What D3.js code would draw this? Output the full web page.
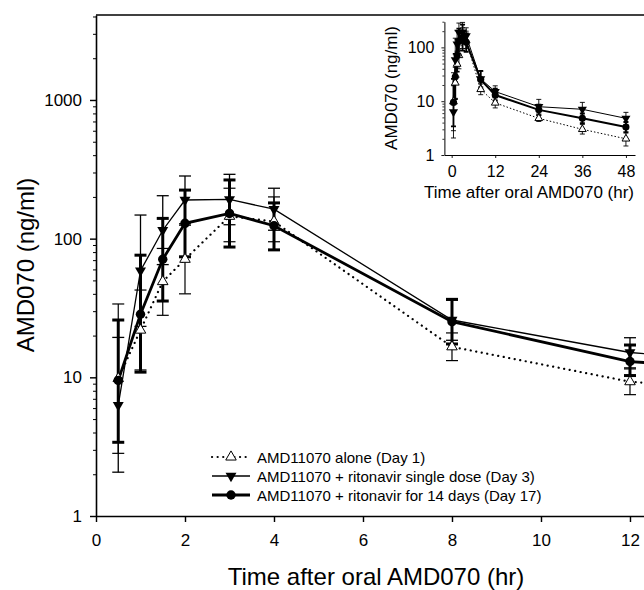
<!DOCTYPE html>
<html>
<head>
<meta charset="utf-8">
<script src="https://cdn.jsdelivr.net/npm/d3@7"></script>
<style>
body { margin: 0; background: #fff; }
svg { display: block; font-family: "Liberation Sans", Arial, sans-serif; }
</style>
</head>
<body>
<svg id="chart" width="644" height="590"></svg>
<script>
'use strict';

// Sampling times (hr)
var times = [0.5, 1, 1.5, 2, 3, 4, 8, 12, 24, 36, 48];

// AMD11070 alone (Day 1)
var aloneMean = [9.8, 21.9, 49, 71, 145, 133, 16.6, 9.3, 4.8, 3.0, 2.0];
var aloneLow  = [2.83, 11.3, 28, 40, 95, 95, 13.2, 7.5, 4.2, 2.45, 1.47];
var aloneHigh = [33.8, 42.6, 85, 125, 231, 200, 20.9, 11.5, 5.5, 3.7, 2.7];

// AMD11070 + ritonavir single dose (Day 3)
var singleMean = [6.3, 58.7, 115, 190, 192, 163, 25.9, 15.1, 7.9, 7.07, 4.8];
var singleLow  = [2.07, 23.3, 65, 128, 126, 115, 18.5, 11.7, 5.8, 5.3, 3.7];
var singleHigh = [19.4, 148, 204, 283, 291, 231, 36, 19.3, 10.8, 9.5, 6.2];

// AMD11070 + ritonavir for 14 days (Day 17)
var multiMean = [9.5, 28.5, 71, 129, 152, 124, 25.2, 13, 6.9, 4.8, 3.3];
var multiLow  = [3.4, 10.9, 35.5, 74, 87, 83, 17.4, 10.3, 5.5, 3.9, 2.6];
var multiHigh = [25.9, 76, 140, 224, 265, 181, 36.5, 17.1, 8.6, 5.9, 4.1];

var legendLabels = [
    'AMD11070 alone (Day 1)',
    'AMD11070 + ritonavir single dose (Day 3)',
    'AMD11070 + ritonavir for 14 days (Day 17)'
];

var mainXTicks = [0, 2, 4, 6, 8, 10, 12];
var mainYTicks = [1, 10, 100, 1000];
var insetXTicks = [0, 12, 24, 36, 48];
var insetYTicks = [1, 10, 100];

var xTitle = 'Time after oral AMD070 (hr)';
var yTitle = 'AMD070 (ng/ml)';

function rows(mean, low, high) {
    return times.map(function (t, i) {
        return { t: t, v: mean[i], lo: low[i], hi: high[i] };
    });
}

var series = [
    { data: rows(aloneMean, aloneLow, aloneHigh), kind: 'alone' },
    { data: rows(singleMean, singleLow, singleHigh), kind: 'single' },
    { data: rows(multiMean, multiLow, multiHigh), kind: 'multi' }
];

// Styles for main plot and inset
var mainStyle = {
    alone:  { lw: 2.2, dash: '0.1,5.5', cap: 'round', ew: 1.2, cw: 12, sym: 'tri', size: 48 },
    single: { lw: 1.3, dash: null, cap: 'butt', ew: 1.3, cw: 12, sym: 'down', size: 52 },
    multi:  { lw: 2.8, dash: null, cap: 'butt', ew: 3, cw: 12, sym: 'circle', size: 70 }
};
var insetStyle = {
    alone:  { lw: 1, dash: '1.5,2', cap: 'butt', ew: 0.9, cw: 5, sym: 'tri', size: 26 },
    single: { lw: 1, dash: null, cap: 'butt', ew: 0.9, cw: 5, sym: 'down', size: 36 },
    multi:  { lw: 2, dash: null, cap: 'butt', ew: 1.8, cw: 5, sym: 'circle', size: 40 }
};

var svg = d3.select('#chart');

function symbolPath(st) {
    var type = st.sym === 'circle' ? d3.symbolCircle : d3.symbolTriangle;
    return d3.symbol().type(type).size(st.size)();
}

function drawMarker(g, st, px, py) {
    var m = g.append('path')
        .attr('d', symbolPath(st))
        .attr('transform', 'translate(' + px + ',' + py + ')' + (st.sym === 'down' ? ' rotate(180)' : ''));
    if (st.sym === 'tri') {
        m.style('fill', '#fff').style('stroke', '#000').style('stroke-width', 1);
    } else {
        m.style('fill', '#000').style('stroke', 'none');
    }
    return m;
}

function drawSeries(root, x, y, styles, clipId) {
    var g = root.append('g').attr('clip-path', 'url(#' + clipId + ')');
    var line = d3.line()
        .x(function (d) { return x(d.t); })
        .y(function (d) { return y(d.v); });

    // Lines
    series.forEach(function (s) {
        var st = styles[s.kind];
        g.append('path')
            .datum(s.data)
            .attr('d', line)
            .style('fill', 'none')
            .style('stroke', '#000')
            .style('stroke-width', st.lw)
            .style('stroke-linecap', st.cap)
            .style('stroke-dasharray', st.dash);
    });

    // Error bars
    series.forEach(function (s) {
        var st = styles[s.kind];
        var eg = g.append('g')
            .style('stroke', '#000')
            .style('stroke-width', st.ew);
        s.data.forEach(function (d) {
            var cx = x(d.t);
            eg.append('line')
                .attr('x1', cx).attr('x2', cx)
                .attr('y1', y(d.lo)).attr('y2', y(d.hi));
            [d.lo, d.hi].forEach(function (v) {
                eg.append('line')
                    .attr('x1', cx - st.cw / 2).attr('x2', cx + st.cw / 2)
                    .attr('y1', y(v)).attr('y2', y(v));
            });
        });
    });

    // Markers
    series.forEach(function (s) {
        var st = styles[s.kind];
        s.data.forEach(function (d) {
            drawMarker(g, st, x(d.t), y(d.v));
        });
    });
}

function styleAxis(g, fontSize, lineWidth) {
    g.attr('font-family', null).attr('font-size', fontSize);
    g.selectAll('path.domain').style('stroke-width', lineWidth);
    g.selectAll('.tick line').style('stroke-width', lineWidth * 0.9);
    g.selectAll('.tick text').style('fill', '#000');
}

function minorTicks(scale, majors) {
    return scale.ticks().filter(function (v) { return majors.indexOf(v) < 0; });
}

// ---- Main plot ----
var x = d3.scaleLinear().domain([0, 12.315]).range([96, 644]);
var y = d3.scaleLog().domain([1, 4100]).range([516, 15]);

var defs = svg.append('defs');
defs.append('clipPath').attr('id', 'mainClip')
    .append('rect')
    .attr('x', x.range()[0]).attr('y', y.range()[1])
    .attr('width', x.range()[1] - x.range()[0])
    .attr('height', y.range()[0] - y.range()[1]);

drawSeries(svg, x, y, mainStyle, 'mainClip');

// Top frame line
svg.append('line')
    .attr('x1', x.range()[0]).attr('x2', x.range()[1])
    .attr('y1', y.range()[1]).attr('y2', y.range()[1])
    .style('stroke', '#000').style('stroke-width', 1.6);

var xAxis = svg.append('g')
    .attr('transform', 'translate(0,' + y.range()[0] + ')')
    .call(d3.axisBottom(x).tickValues(mainXTicks).tickSize(6).tickSizeOuter(0).tickPadding(12));
styleAxis(xAxis, 17, 1.6);

var yMinor = svg.append('g')
    .attr('transform', 'translate(' + x.range()[0] + ',0)')
    .call(d3.axisLeft(y).tickValues(minorTicks(y, mainYTicks)).tickSize(3).tickSizeOuter(0).tickFormat(''));
yMinor.select('path.domain').remove();
yMinor.selectAll('.tick line').style('stroke-width', 1);

var yAxis = svg.append('g')
    .attr('transform', 'translate(' + x.range()[0] + ',0)')
    .call(d3.axisLeft(y).tickValues(mainYTicks).tickSize(6).tickSizeOuter(0).tickPadding(8)
        .tickFormat(d3.format('d')));
styleAxis(yAxis, 17, 1.6);

svg.append('text')
    .attr('x', 376).attr('y', 585)
    .attr('text-anchor', 'middle')
    .style('font-size', '24px')
    .text(xTitle);

svg.append('text')
    .attr('transform', 'translate(34,265) rotate(-90)')
    .attr('text-anchor', 'middle')
    .style('font-size', '24px')
    .text(yTitle);

// Legend
var legendY = [457, 476, 495];
var legend = svg.append('g');
series.forEach(function (s, i) {
    var st = mainStyle[s.kind];
    var ly = legendY[i];
    legend.append('line')
        .attr('x1', 212).attr('x2', 250)
        .attr('y1', ly).attr('y2', ly)
        .style('stroke', '#000')
        .style('stroke-width', st.lw)
        .style('stroke-linecap', st.cap)
        .style('stroke-dasharray', st.dash);
    drawMarker(legend, st, 231, ly);
    legend.append('text')
        .attr('x', 257).attr('y', ly + 5.5)
        .style('font-size', '15px')
        .text(legendLabels[i]);
});

// ---- Inset ----
var ix = d3.scaleLinear().domain([-2, 50.5]).range([444.4, 635]);
var iy = d3.scaleLog().domain([1, 300]).range([155, 21.7]);

defs.append('clipPath').attr('id', 'insetClip')
    .append('rect')
    .attr('x', ix.range()[0]).attr('y', iy.range()[1] - 6)
    .attr('width', ix.range()[1] - ix.range()[0])
    .attr('height', iy.range()[0] - iy.range()[1] + 6);

drawSeries(svg, ix, iy, insetStyle, 'insetClip');

var ixAxis = svg.append('g')
    .attr('transform', 'translate(0,' + iy.range()[0] + ')')
    .call(d3.axisBottom(ix).tickValues(insetXTicks).tickSize(3).tickSizeOuter(0).tickPadding(8));
styleAxis(ixAxis, 16, 1);

var iyMinor = svg.append('g')
    .attr('transform', 'translate(' + ix.range()[0] + ',0)')
    .call(d3.axisLeft(iy).tickValues(minorTicks(iy, insetYTicks)).tickSize(2).tickSizeOuter(0).tickFormat(''));
iyMinor.select('path.domain').remove();
iyMinor.selectAll('.tick line').style('stroke-width', 0.8);

var iyAxis = svg.append('g')
    .attr('transform', 'translate(' + ix.range()[0] + ',0)')
    .call(d3.axisLeft(iy).tickValues(insetYTicks).tickSize(3).tickSizeOuter(0).tickPadding(7)
        .tickFormat(d3.format('d')));
styleAxis(iyAxis, 16, 1);

svg.append('text')
    .attr('x', 529).attr('y', 198)
    .attr('text-anchor', 'middle')
    .style('font-size', '17px')
    .text(xTitle);

svg.append('text')
    .attr('transform', 'translate(397,88) rotate(-90)')
    .attr('text-anchor', 'middle')
    .style('font-size', '17px')
    .text(yTitle);
</script>
</body>
</html>
